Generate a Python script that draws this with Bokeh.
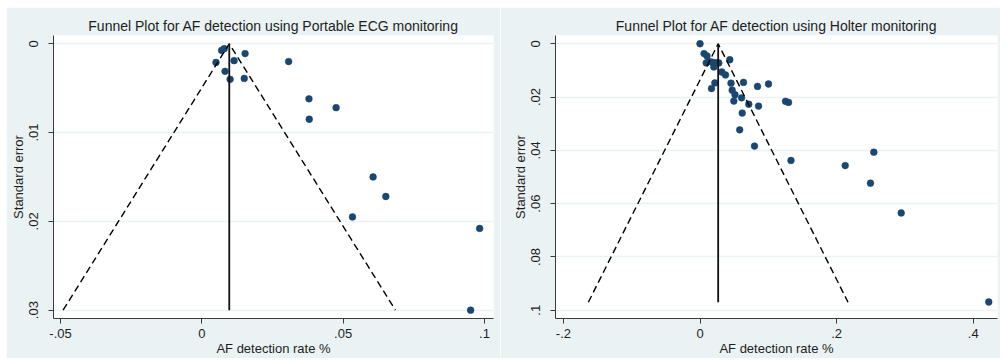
from bokeh.plotting import figure
from bokeh.layouts import row
from bokeh.models import Range1d, FixedTicker, ColumnDataSource
from bokeh.embed import file_html
from bokeh.resources import INLINE

# ---------------- data ----------------
# Panel 1: Portable ECG monitoring
ecg_rate = [0.0070, 0.0079, 0.0153, 0.0050, 0.0114, 0.0082, 0.0100, 0.0150,
            0.0307, 0.0379, 0.0475, 0.0380, 0.0606, 0.0651, 0.0533, 0.0983, 0.0951]
ecg_se = [0.00075, 0.00056, 0.0011, 0.0021, 0.0019, 0.0031, 0.0040, 0.0039,
          0.0020, 0.0062, 0.0072, 0.0085, 0.0150, 0.0172, 0.0195, 0.0208, 0.0300]
ecg_pooled = 0.0097
ecg_se_max = 0.030
ecg_xticks = [-0.05, 0.0, 0.05, 0.1]
ecg_xlabels = ["-.05", "0", ".05", ".1"]
ecg_yticks = [0.0, 0.01, 0.02, 0.03]
ecg_ylabels = ["0", ".01", ".02", ".03"]

# Panel 2: Holter monitoring
holter_rate = [0.0000, 0.0059, 0.0102, 0.0091, 0.0129, 0.0176, 0.0202, 0.0227,
               0.0275, 0.0436, 0.0319, 0.0373, 0.0217, 0.0168, 0.0454, 0.0637,
               0.0842, 0.1003, 0.0471, 0.0512, 0.0608, 0.0495, 0.0714, 0.0857,
               0.0618, 0.1252, 0.1296, 0.0581, 0.0798, 0.1332, 0.2545, 0.2126,
               0.2496, 0.2946, 0.4228]
holter_se = [0.0000, 0.0037, 0.0046, 0.0072, 0.0066, 0.0069, 0.0087, 0.0071,
             0.0072, 0.0060, 0.0106, 0.0117, 0.0147, 0.0168, 0.0148, 0.0145,
             0.0160, 0.0151, 0.0174, 0.0191, 0.0203, 0.0215, 0.0227, 0.0234,
             0.0260, 0.0216, 0.0220, 0.0323, 0.0384, 0.0438, 0.0407, 0.0457,
             0.0523, 0.0635, 0.0969]
holter_pooled = 0.0266
holter_se_max = 0.097
holter_xticks = [-0.2, 0.0, 0.2, 0.4]
holter_xlabels = ["-.2", "0", ".2", ".4"]
holter_yticks = [0.0, 0.02, 0.04, 0.06, 0.08, 0.1]
holter_ylabels = ["0", ".02", ".04", ".06", ".08", ".1"]

x_label = "AF detection rate %"
y_label = "Standard error"
title_ecg = "Funnel Plot for AF detection using Portable ECG monitoring"
title_holter = "Funnel Plot for AF detection using Holter monitoring"

# ---------------- style ----------------
BG = "#eaf2f3"
NAVY = "#1a476f"
FONT = "Liberation Sans"
TXT = "#1e1e1e"


def panel(title, rate, se, pooled, se_max, xt, xl, yt, yl, xr, yr,
          width, left, right, margin):
    p = figure(width=width, height=351, x_range=Range1d(*xr), y_range=Range1d(*yr),
               output_backend="svg", toolbar_location=None,
               min_border_left=left, min_border_right=right,
               min_border_top=28, min_border_bottom=39, margin=margin)
    p.background_fill_color = "white"
    p.border_fill_color = BG
    p.outline_line_color = None

    p.title.text = title
    p.title.align = "center"
    p.title.text_font = FONT
    p.title.text_font_size = "14px"
    p.title.text_font_style = "normal"
    p.title.text_color = TXT
    p.title.standoff = 3

    p.xgrid.visible = False
    p.ygrid.ticker = FixedTicker(ticks=yt)
    p.ygrid.grid_line_color = BG
    p.ygrid.grid_line_width = 1.5

    for ax, ticks, labels in ((p.xaxis[0], xt, xl), (p.yaxis[0], yt, yl)):
        ax.ticker = FixedTicker(ticks=ticks)
        ax.major_label_overrides = {t: s for t, s in zip(ticks, labels)}
        ax.minor_tick_line_color = None
        ax.major_tick_out = 5
        ax.major_tick_in = 0
        ax.axis_line_color = "#3a3a3a"
        ax.major_tick_line_color = "#3a3a3a"
        ax.major_label_text_font = FONT
        ax.major_label_text_font_size = "13px"
        ax.major_label_text_color = TXT
        ax.axis_label_text_font = FONT
        ax.axis_label_text_font_size = "13px"
        ax.axis_label_text_font_style = "normal"
        ax.axis_label_text_color = TXT

    p.xaxis.axis_label = x_label
    p.xaxis.major_label_standoff = 5
    p.xaxis.axis_label_standoff = 0
    p.yaxis.axis_label = y_label
    p.yaxis.major_label_orientation = "vertical"
    p.yaxis.major_label_standoff = 10
    p.yaxis.axis_label_standoff = 1

    src = ColumnDataSource(dict(rate=rate, se=se))
    p.scatter("rate", "se", source=src, size=6.8, fill_color=NAVY,
              line_color=NAVY, line_width=0.5)

    half = 1.96 * se_max
    p.line([pooled - half, pooled, pooled + half], [se_max, 0, se_max],
           line_color="black", line_width=1.4, line_dash="7 4")
    p.line([pooled, pooled], [0, se_max], line_color="#111111", line_width=1.8)
    return p


p1 = panel(title_ecg, ecg_rate, ecg_se, ecg_pooled, ecg_se_max,
           ecg_xticks, ecg_xlabels, ecg_yticks, ecg_ylabels,
           (-0.0525, 0.1032), (0.03094, -0.00093), 494, 47, 7, (7, 0, 0, 6))
p2 = panel(title_holter, holter_rate, holter_se, holter_pooled, holter_se_max,
           holter_xticks, holter_xlabels, holter_yticks, holter_ylabels,
           (-0.2116, 0.4356), (0.1031, -0.0031), 500, 55, 3, (7, 0, 0, 0))

layout = row(p1, p2, margin=0)
open("out.html", "w").write(file_html(layout, INLINE))
